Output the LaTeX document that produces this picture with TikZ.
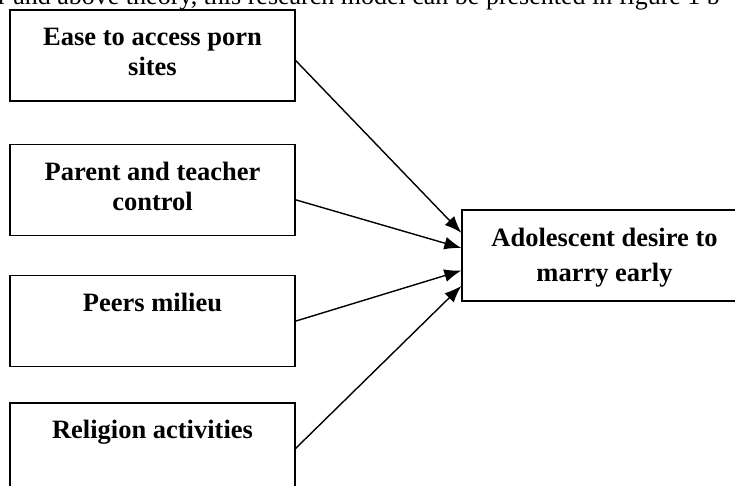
\documentclass[tikz,border=0pt]{standalone}
\usepackage{fontspec}
\setmainfont{Liberation Serif}
\usetikzlibrary{positioning}
\usetikzlibrary{arrows.meta}
\tikzstyle{facteur}=[
  draw=black,
  line width=1.3pt,
  minimum width=285pt,
  minimum height=91pt,
  inner sep=0pt,
  font=\bfseries\fontsize{26.5}{30}\selectfont
]
\tikzstyle{effet}=[%
  facteur,
  font=\bfseries\fontsize{26.5}{35}\selectfont
]
\newcommand{\cadre}[1]{\parbox[c][67pt][t]{270pt}{\centering\rule{0pt}{24pt}#1}}

\begin{document}
\begin{tikzpicture}[x=1pt,y=1pt,node distance=40pt]
    \useasboundingbox (0,0) rectangle (735,485);
    \clip (0,0) rectangle (735,485);
    \node[anchor=base west,inner sep=0pt,font=\fontsize{26}{30}\selectfont] (intro) at (-2,480.5) {r and above theory, this research model can be presented in figure 1 b};
    \node[facteur] (ease) at (152.5,429.5) {\cadre{Ease to access porn\\sites}};
    \node[facteur,below=42pt of ease] (parent) {\cadre{Parent and teacher\\control}};
    \node[facteur,below=39pt of parent] (peers) {\cadre{Peers milieu}};
    \node[facteur,below=35pt of peers] (religion) {\cadre{Religion activities}};
    \node[effet] (desire) at (604.5,229.5) {\cadre{Adolescent desire to\\marry early}};
    \draw[>={Latex[length=17pt,width=13pt]},->,line width=1.4pt] (ease.-2.6) -- (desire.171);
    \draw[>={Latex[length=17pt,width=13pt]},->,line width=1.4pt] (parent.-4.6) -- (desire.177.8);
    \draw[>={Latex[length=17pt,width=13pt]},->,line width=1.4pt] (peers.0.8) -- (desire.186.6);
    \draw[>={Latex[length=17pt,width=13pt]},->,line width=1.4pt] (religion.-0.6) -- (desire.192.5);
  \end{tikzpicture}
\end{document}
